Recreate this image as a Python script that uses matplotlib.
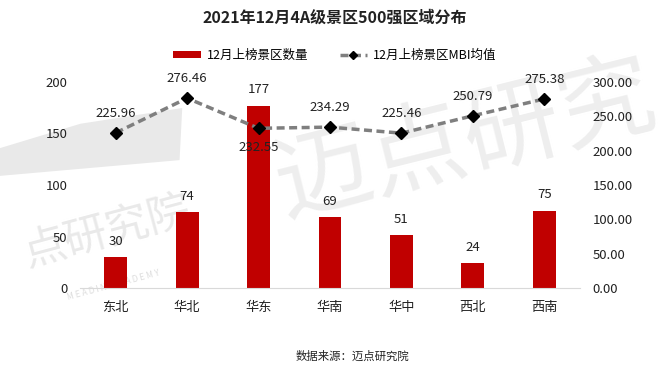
import matplotlib.pyplot as plt
from matplotlib.patches import Polygon

plt.rcParams['font.family'] = ['Noto Sans CJK SC', 'DejaVu Sans']

regions = ['东北', '华北', '华东', '华南', '华中', '西北', '西南']
counts = [30, 74, 177, 69, 51, 24, 75]
mbi = [225.96, 276.46, 232.55, 234.29, 225.46, 250.79, 275.38]

fig = plt.figure(figsize=(6.7, 3.75), dpi=100)
ax = fig.add_axes([80 / 670, 1 - 288 / 375, 500 / 670, 206 / 375])
ax2 = ax.twinx()

# faint watermark behind the data
wm = '#e9e9e9'
ax.add_patch(Polygon([(0.0, 0.605), (0.12, 0.67), (0.272, 0.712), (0.268, 0.573), (0.0, 0.531)],
                     closed=True, transform=fig.transFigure, facecolor=wm, edgecolor='none',
                     zorder=0, clip_on=False))
ax.text(0.695, 0.625, '迈点研究', transform=fig.transFigure, fontsize=70, color='#eeeeee',
        rotation=14, ha='center', va='center', zorder=1)
ax.text(0.16, 0.38, '点研究院', transform=fig.transFigure, fontsize=31, color=wm,
        rotation=15, ha='center', va='center', zorder=1)
ax.text(0.17, 0.24, 'M E A D I N   A C A D E M Y', transform=fig.transFigure, fontsize=6,
        color='#dddddd', rotation=15, ha='center', va='center', zorder=1)

x = list(range(len(regions)))
ax.bar(x, counts, width=0.32, color='#c00000', label='12月上榜景区数量', zorder=2)
for xi, v in zip(x, counts):
    ax.text(xi, v + 9, str(v), ha='center', va='bottom', fontsize=9.5, color='#222222', zorder=4)

ax.set_ylim(0, 200)
ax.set_yticks([0, 50, 100, 150, 200])
ax.set_xlim(-0.5, len(regions) - 0.5)
ax.set_xticks(x)
ax.set_xticklabels(regions)

ax2.plot(x, mbi, color='#7f7f7f', linewidth=2.5, dashes=(2.3, 1.3),
         marker='D', markersize=6, markerfacecolor='black', markeredgecolor='black',
         label='12月上榜景区MBI均值', zorder=3)
for xi, v in zip(x, mbi):
    off = -28 if xi == 2 else 28
    ax2.text(xi, v + off, f'{v:.2f}', ha='center', va='center', fontsize=9.5, color='#222222', zorder=4)
ax2.set_ylim(0, 300)
ax2.set_yticks([0, 50, 100, 150, 200, 250, 300])
ax2.set_yticklabels([f'{t:.2f}' for t in [0, 50, 100, 150, 200, 250, 300]])

for a in (ax, ax2):
    for s in a.spines.values():
        s.set_visible(False)
    a.tick_params(length=0, labelsize=9.5, colors='#222222', pad=9)
    a.patch.set_visible(False)
ax.spines['bottom'].set_visible(True)
ax.spines['bottom'].set_color('#d9d9d9')
ax.tick_params(axis='x', pad=9)

h1, l1 = ax.get_legend_handles_labels()
h2, l2 = ax2.get_legend_handles_labels()
fig.legend(h1 + h2, l1 + l2, loc='center', bbox_to_anchor=(0.5, 1 - 55 / 375), ncol=2,
           frameon=False, fontsize=9, handlelength=2.2, handleheight=0.5, columnspacing=2.5,
           handletextpad=0.5, markerscale=0.7)

fig.text(0.5, 1 - 18 / 375, '2021年12月4A级景区500强区域分布', ha='center', va='center',
         fontsize=11.5, fontweight='bold', color='#222222')
fig.text(352 / 670, 1 - 356 / 375, '数据来源：迈点研究院', ha='center', va='center',
         fontsize=8.2, color='#222222')

fig.savefig('out.png', dpi=100)
